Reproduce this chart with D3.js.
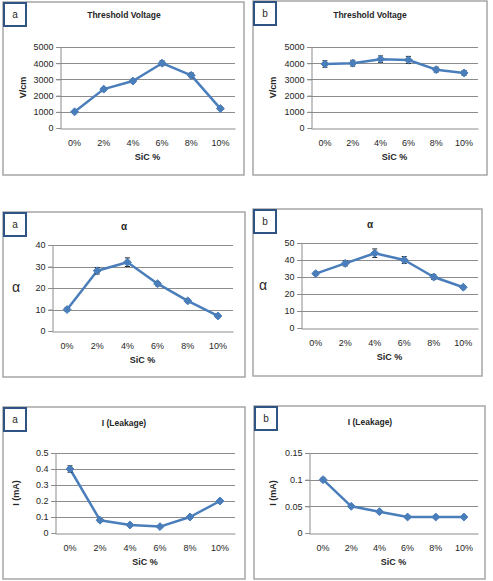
<!DOCTYPE html>
<html>
<head>
<meta charset="utf-8">
<script src="https://cdn.jsdelivr.net/npm/d3@7"></script>
<style>
  body { margin: 0; background: #fff; }
  text { font-family: "Liberation Sans", Arial, sans-serif; fill: #262626; }
</style>
</head>
<body>
<script>
// chart values
var categories = ["0%", "2%", "4%", "6%", "8%", "10%"];

var thresholdA = [1000, 2400, 2900, 4000, 3250, 1200];
var thresholdAErr = [80, 100, 100, 150, 150, 100];
var thresholdB = [3950, 4000, 4250, 4200, 3600, 3400];
var thresholdBErr = [200, 180, 200, 220, 150, 150];

var alphaA = [10, 28, 32, 22, 14, 7];
var alphaAErr = [0.8, 1.5, 2, 1, 0.8, 0.8];
var alphaB = [32, 38, 44, 40, 30, 24];
var alphaBErr = [1, 1.5, 2.5, 2, 1.5, 1];

var leakA = [0.40, 0.08, 0.05, 0.04, 0.10, 0.20];
var leakAErr = [0.02, 0.01, 0.005, 0.005, 0.008, 0.01];
var leakB = [0.10, 0.05, 0.04, 0.03, 0.03, 0.03];
var leakBErr = [0.003, 0.002, 0.002, 0.002, 0.002, 0.002];

var thresholdTicks = [0, 1000, 2000, 3000, 4000, 5000];
var alphaATicks = [0, 10, 20, 30, 40];
var alphaBTicks = [0, 10, 20, 30, 40, 50];
var leakATicks = [0, 0.1, 0.2, 0.3, 0.4, 0.5];
var leakBTicks = [0, 0.05, 0.1, 0.15];

var xTitle = "SiC %";

// panel layout
var panels = [
    {tag: "a", title: "Threshold Voltage", ytitle: "V/cm", values: thresholdA, err: thresholdAErr,
     ticks: thresholdTicks, box: [3, 2, 241, 173], plot: [60, 235, 47, 128], tx: 124, ty: 15, yx: 23},
    {tag: "b", title: "Threshold Voltage", ytitle: "V/cm", values: thresholdB, err: thresholdBErr,
     ticks: thresholdTicks, box: [253, 1, 234, 174], plot: [311, 478, 47, 128], tx: 370, ty: 15, yx: 273},
    {tag: "a", title: "\u03b1", ytitle: "\u03b1", values: alphaA, err: alphaAErr, greek: true,
     ticks: alphaATicks, box: [3, 212, 242, 165], plot: [52, 233, 245, 331], tx: 124, ty: 227, yx: 16},
    {tag: "b", title: "\u03b1", ytitle: "\u03b1", values: alphaB, err: alphaBErr, greek: true,
     ticks: alphaBTicks, box: [253, 209, 229, 167], plot: [301, 478, 243, 328], tx: 370, ty: 225, yx: 263},
    {tag: "a", title: "I (Leakage)", ytitle: "I (mA)", values: leakA, err: leakAErr,
     ticks: leakATicks, box: [3, 407, 242, 172], plot: [55, 235, 453, 533], tx: 124, ty: 423, yx: 16},
    {tag: "b", title: "I (Leakage)", ytitle: "I (mA)", values: leakB, err: leakBErr,
     ticks: leakBTicks, box: [254, 406, 231, 173], plot: [309, 478, 453, 533], tx: 370, ty: 422, yx: 273}
];

var lineColor = "#4a7ebb";
var gridColor = "#8c8c8c";

var svg = d3.select("body").append("svg")
    .attr("width", 493)
    .attr("height", 581);

panels.forEach(function(p) {
    var g = svg.append("g");

    // outer frame
    g.append("rect")
        .attr("x", p.box[0])
        .attr("y", p.box[1])
        .attr("width", p.box[2])
        .attr("height", p.box[3])
        .style("fill", "#fff")
        .style("stroke", "#a6a6a6")
        .style("stroke-width", "1.5px");

    var x = d3.scaleBand().domain(categories).range([p.plot[0], p.plot[1]]);
    var y = d3.scaleLinear()
        .domain([0, d3.max(p.ticks)])
        .range([p.plot[3], p.plot[2]]);

    // gridlines
    g.selectAll(".grid")
        .data(p.ticks.slice(1))
        .enter()
        .append("line")
        .attr("x1", p.plot[0] - 4)
        .attr("x2", p.plot[1])
        .attr("y1", function(d) { return Math.round(y(d)) + 0.5; })
        .attr("y2", function(d) { return Math.round(y(d)) + 0.5; })
        .style("stroke", gridColor)
        .style("stroke-width", "1px");

    // y axis
    var yAxis = d3.axisLeft(y).tickValues(p.ticks).tickSize(4).tickPadding(3)
        .tickFormat(function(d) { return String(+d.toFixed(3)); });
    var gy = g.append("g")
        .attr("transform", "translate(" + (Math.round(p.plot[0]) + 0.5) + ",0)")
        .call(yAxis);
    gy.select(".domain").style("stroke", gridColor);
    gy.selectAll(".tick line").style("stroke", gridColor);
    gy.selectAll("text").style("font-size", "9px").attr("fill", "#262626");

    // x axis
    var xAxis = d3.axisBottom(x).tickSize(0).tickPadding(11);
    var gx = g.append("g")
        .attr("transform", "translate(0," + (Math.round(p.plot[3]) + 0.5) + ")")
        .call(xAxis);
    gx.select(".domain").style("stroke", gridColor);
    gx.selectAll("text").style("font-size", "9px").attr("fill", "#262626");

    // titles
    g.append("text")
        .text(p.title)
        .attr("x", p.tx)
        .attr("y", p.ty + 3)
        .attr("text-anchor", "middle")
        .style("font-size", p.greek ? "10px" : "8.5px")
        .style("font-weight", "bold");

    g.append("text")
        .text(xTitle)
        .attr("x", (p.plot[0] + p.plot[1]) / 2)
        .attr("y", p.plot[3] + 32)
        .attr("text-anchor", "middle")
        .style("font-size", "9px")
        .style("font-weight", "bold");

    if (p.greek) {
        g.append("text")
            .text(p.ytitle)
            .attr("x", p.yx)
            .attr("y", (p.plot[2] + p.plot[3]) / 2 + 4)
            .attr("text-anchor", "middle")
            .style("font-size", "14px");
    } else {
        g.append("text")
            .text(p.ytitle)
            .attr("transform", "translate(" + (p.yx + 3) + "," + ((p.plot[2] + p.plot[3]) / 2) + ") rotate(-90)")
            .attr("text-anchor", "middle")
            .style("font-size", "9px")
            .style("font-weight", "bold");
    }

    var cx = function(d, i) { return x(categories[i]) + x.bandwidth() / 2; };

    // line
    var line = d3.line()
        .x(function(d, i) { return cx(d, i); })
        .y(function(d) { return y(d); });
    g.append("path")
        .datum(p.values)
        .attr("d", line)
        .style("fill", "none")
        .style("stroke", lineColor)
        .style("stroke-width", "2.5px")
        .style("stroke-linejoin", "round");

    // error bars
    p.values.forEach(function(v, i) {
        var xc = cx(v, i);
        var top = y(v + p.err[i]), bot = y(v - p.err[i]);
        g.append("line")
            .attr("x1", xc).attr("x2", xc)
            .attr("y1", top).attr("y2", bot)
            .style("stroke", "#222").style("stroke-width", "1px");
        [top, bot].forEach(function(yy) {
            g.append("line")
                .attr("x1", xc - 2.5).attr("x2", xc + 2.5)
                .attr("y1", yy).attr("y2", yy)
                .style("stroke", "#222").style("stroke-width", "1px");
        });
    });

    // diamond markers
    g.selectAll(".marker")
        .data(p.values)
        .enter()
        .append("path")
        .attr("d", d3.symbol().type(d3.symbolDiamond2).size(40))
        .attr("transform", function(d, i) { return "translate(" + cx(d, i) + "," + y(d) + ")"; })
        .style("fill", lineColor)
        .style("stroke", lineColor)
        .style("stroke-width", "1px");

    // panel tag box
    g.append("rect")
        .attr("x", p.box[0] + 1)
        .attr("y", p.box[1] + 1)
        .attr("width", 22)
        .attr("height", 23)
        .style("fill", "#fff")
        .style("stroke", "#2f5483")
        .style("stroke-width", "2px");
    g.append("text")
        .text(p.tag)
        .attr("x", p.box[0] + 12)
        .attr("y", p.box[1] + 16)
        .attr("text-anchor", "middle")
        .style("font-size", "10px");
});
</script>
</body>
</html>
